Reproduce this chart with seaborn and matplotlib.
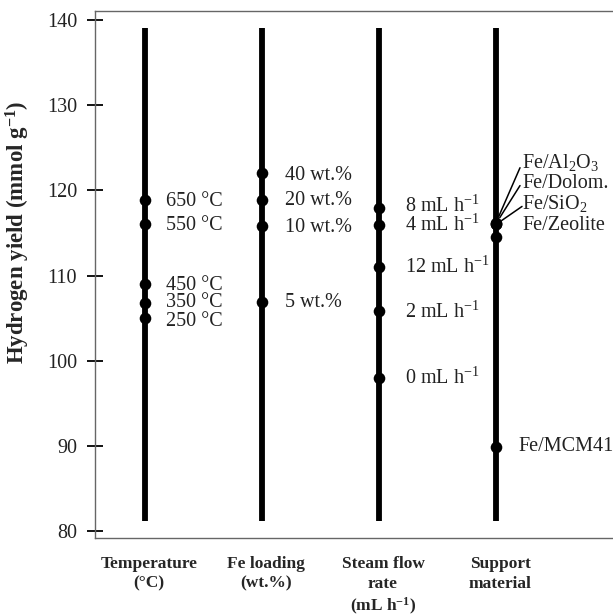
import matplotlib
matplotlib.use("Agg")
import matplotlib.pyplot as plt
import seaborn as sns
import pandas as pd

# ---------------- data ----------------
categories = ["Temperature\n(°C)", "Fe loading\n(wt.%)", "Steam flow\nrate\n(mL h$^{\\mathbf{-1}}$)",
              "Support\nmaterial"]

temp_labels = ["650 °C", "550 °C", "450 °C", "350 °C", "250 °C"]
temp_values = [118.9, 116.0, 109.0, 106.8, 105.0]

fe_labels = ["40 wt.%", "20 wt.%", "10 wt.%", "5 wt.%"]
fe_values = [122.0, 118.9, 115.8, 106.9]

steam_labels = ["8 mL h$^{-1}$", "4 mL h$^{-1}$", "12 mL h$^{-1}$", "2 mL h$^{-1}$", "0 mL h$^{-1}$"]
steam_values = [117.9, 115.9, 111.0, 105.8, 98.0]

support_labels = ["Fe/Al$_2$O$_3$", "Fe/Dolom.", "Fe/SiO$_2$", "Fe/Zeolite", "Fe/MCM41"]
support_values = [116.2, 116.1, 116.0, 114.5, 89.9]

yticks = [80, 90, 100, 110, 120, 130, 140]
line_range = (81.2, 139.1)

groups = [(temp_labels, temp_values), (fe_labels, fe_values),
          (steam_labels, steam_values), (support_labels, support_values)]

rows = []
for gi, (labs, vals) in enumerate(groups):
    for lab, v in zip(labs, vals):
        rows.append({"pos": gi, "label": lab, "value": v})
df = pd.DataFrame(rows)

# ---------------- style ----------------
sns.set_style("ticks")
plt.rcParams["font.family"] = ["Liberation Serif", "DejaVu Serif"]
plt.rcParams["mathtext.fontset"] = "custom"
plt.rcParams["mathtext.rm"] = "Liberation Serif"
plt.rcParams["mathtext.it"] = "Liberation Serif:italic"
plt.rcParams["mathtext.bf"] = "Liberation Serif:bold"
plt.rcParams["mathtext.default"] = "regular"

fig = plt.figure(figsize=(6.13, 6.16), dpi=100)
ax = fig.add_axes([0.1545, 0.1266, 0.8455, 0.8555])

PX = 0.72  # points per pixel at dpi 100

# vertical lines
for gi in range(len(groups)):
    ax.vlines(gi, line_range[0], line_range[1], color="black", lw=4.2, zorder=2)

sns.scatterplot(data=df, x="pos", y="value", ax=ax, color="black", s=70,
                edgecolor="black", linewidth=0, zorder=3, legend=False)

# label offsets in pixels (dx from line, dy relative to dot, up positive)
offsets = [
    [(21, -2), (21, -1), (21, -1), (21, 0), (21, -3)],
    [(23, -2), (23, -1), (23, -1), (23, -1)],
    [(26, 2), (26, 0), (26, 0), (26, -1), (26, 0)],
    [(26, 60), (26, 40), (26, 21), (26, 12), (22, 0)],
]
label_fs = 14.5
for gi, (labs, vals) in enumerate(groups):
    for (lab, v), (dx, dy) in zip(zip(labs, vals), offsets[gi]):
        ax.annotate(lab, xy=(gi, v), xytext=(dx * PX, dy * PX),
                    textcoords="offset points", ha="left", va="center",
                    fontsize=label_fs, color="#222222")

# leader lines for crowded support labels
lead_ends = [(24, 55), (24, 38), (26, 18)]
for i, (ex, ey) in enumerate(lead_ends):
    ax.annotate("", xy=(3, support_values[i]), xytext=(ex * PX, ey * PX),
                textcoords="offset points",
                arrowprops=dict(arrowstyle="-", color="black", lw=1.1,
                                shrinkA=0, shrinkB=5))

# axes styling
ax.set_xlim(-0.43, 4.0)
ax.set_ylim(79.18, 141.06)
ax.set_yticks(yticks)
ax.set_xticks([])
ax.set_xlabel("")
ax.set_ylabel("Hydrogen yield (mmol g$^{\\mathbf{-1}}$)", fontsize=16.5, fontweight="bold")
ax.yaxis.set_label_coords(-0.121, 0.58)
ax.tick_params(axis="y", direction="inout", length=11.5, width=1.3, pad=7,
               labelsize=14.5, colors="black")
for lab in ax.get_yticklabels():
    lab.set_color("#222222")
for side in ["left", "top", "bottom"]:
    ax.spines[side].set_color("#666666")
    ax.spines[side].set_linewidth(1.0)
ax.spines["right"].set_visible(False)

for gi, cat in enumerate(categories):
    ax.text(gi + 4 / 117, -0.034, cat, transform=ax.get_xaxis_transform(),
            ha="center", va="top", multialignment="center",
            fontsize=12.5, fontweight="bold", linespacing=1.3)

fig.savefig("out.png", dpi=100)
